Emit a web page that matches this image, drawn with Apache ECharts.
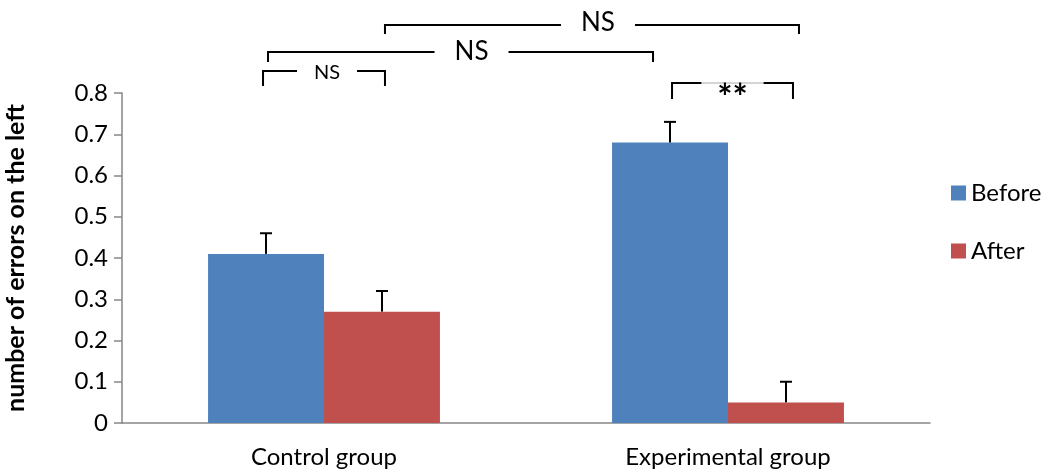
<!DOCTYPE html>
<html>
<head>
<meta charset="utf-8">
<script src="https://cdn.jsdelivr.net/npm/echarts@6/dist/echarts.min.js"></script>
<style>
  html, body { margin: 0; padding: 0; background: #fff; }
  #chart { width: 1043px; height: 474px; }
</style>
</head>
<body>
<div id="chart"></div>
<script>
const categories = ['Control group', 'Experimental group'];
const seriesNames = ['Before', 'After'];
const beforeValues = [0.41, 0.68];
const afterValues = [0.27, 0.05];
const beforeErrors = [0.05, 0.05];
const afterErrors = [0.05, 0.05];

// significance comparisons, each end is [category index, series index]
const compareFrom = [[0, 0], [0, 0], [0, 1], [1, 0]];
const compareTo = [[0, 1], [1, 0], [1, 1], [1, 1]];
const compareLabels = ['NS', 'NS', 'NS', '**'];

const FONT = 'Lato';
const BAR_FRAC = 0.287; // bar width as part of the category band

// bracket drawing tweaks (px), relative to the top of the value axis
const bracketLayout = [
  { line: -22, foot: -7, dl: -3, dr: 3, dt: 3, gap: 30, size: 20, dy: 2 },
  { line: -41, foot: -31, dl: 2, dr: -17, dt: 11, gap: 37, size: 26, dy: 0 },
  { line: -68, foot: -59, dl: 3, dr: 13, dt: 6, gap: 37, size: 26, dy: -2 },
  { line: -10, foot: 6, dl: 2, dr: 7, dt: 0, gap: 31, size: 36, dy: 15, bold: true, thin: true }
];

const chart = echarts.init(document.getElementById('chart'));

const barCenter = (api, cat, ser) => {
  const c = api.coord([cat, 0]);
  const band = api.size([1, 0])[0];
  return c[0] + band * BAR_FRAC * (ser - 0.5);
};

const errorSeries = (values, errors, ser) => ({
  type: 'custom',
  silent: true,
  z: 5,
  data: values.map((v, i) => [i, v, v + errors[i]]),
  renderItem: (params, api) => {
    const cat = api.value(0);
    const x = barCenter(api, cat, ser);
    const y0 = api.coord([cat, api.value(1)])[1];
    const y1 = api.coord([cat, api.value(2)])[1];
    const style = { stroke: '#000', lineWidth: 2 };
    return {
      type: 'group',
      children: [
        { type: 'line', shape: { x1: x, y1: y0, x2: x, y2: y1 }, style },
        { type: 'line', shape: { x1: x - 6, y1: y1, x2: x + 6, y2: y1 }, style }
      ]
    };
  }
});

const bracketSeries = {
  type: 'custom',
  silent: true,
  clip: false,
  z: 10,
  data: compareLabels.map((l, i) => [i]),
  renderItem: (params, api) => {
    const i = params.dataIndex;
    const lay = bracketLayout[i];
    const top = api.coord([0, 0.8])[1];
    const xl = barCenter(api, compareFrom[i][0], compareFrom[i][1]) + lay.dl;
    const xr = barCenter(api, compareTo[i][0], compareTo[i][1]) + lay.dr;
    const yl = top + lay.line;
    const yf = top + lay.foot;
    const xt = (xl + xr) / 2 + lay.dt;
    const style = { stroke: '#000', lineWidth: 2, fill: null };
    const children = [
      { type: 'polyline', shape: { points: [[xl, yf], [xl, yl], [xt - lay.gap, yl]] }, style },
      { type: 'polyline', shape: { points: [[xt + lay.gap, yl], [xr, yl], [xr, yf]] }, style }
    ];
    if (lay.thin) {
      children.push({ type: 'line', shape: { x1: xt - lay.gap, y1: yl, x2: xt + lay.gap, y2: yl },
        style: { stroke: '#aaa', lineWidth: 1 } });
    }
    children.push({
      type: 'text',
      style: {
        text: compareLabels[i], x: xt, y: yl + lay.dy,
        align: 'center', verticalAlign: 'middle',
        fontFamily: FONT, fontSize: lay.size, fontWeight: lay.bold ? 'bold' : 'normal', fill: '#000'
      }
    });
    return { type: 'group', children };
  }
};

const option = {
  animation: false,
  textStyle: { fontFamily: FONT },
  color: ['#4F81BD', '#C0504D'],
  grid: { left: 122, right: 113, top: 93, bottom: 51, outerBoundsMode: 'none' },
  legend: {
    data: seriesNames,
    orient: 'vertical',
    left: 946,
    top: 176,
    icon: 'rect',
    itemWidth: 15,
    itemHeight: 15,
    itemGap: 34,
    textStyle: { fontSize: 24, color: '#000', fontFamily: FONT }
  },
  xAxis: {
    type: 'category',
    data: categories,
    axisLine: { lineStyle: { color: '#868686', width: 1.5 } },
    axisTick: { length: 9, lineStyle: { color: '#868686', width: 1.5 } },
    axisLabel: { color: '#000', fontSize: 24, margin: 22, fontFamily: FONT }
  },
  yAxis: {
    type: 'value',
    min: 0,
    max: 0.8,
    interval: 0.1,
    name: 'number of errors on the left',
    nameLocation: 'middle',
    nameGap: 94,
    nameTextStyle: { fontSize: 25, fontWeight: 'bold', color: '#000', fontFamily: FONT },
    axisLine: { show: true, lineStyle: { color: '#868686', width: 1.5 } },
    axisTick: { show: true, length: 8, lineStyle: { color: '#868686', width: 1.5 } },
    axisLabel: { color: '#000', fontSize: 24, margin: 14, fontFamily: FONT },
    splitLine: { show: false }
  },
  series: [
    { name: 'Before', type: 'bar', data: beforeValues, barWidth: BAR_FRAC * 100 + '%', barGap: '0%' },
    { name: 'After', type: 'bar', data: afterValues, barWidth: BAR_FRAC * 100 + '%', barGap: '0%' },
    errorSeries(beforeValues, beforeErrors, 0),
    errorSeries(afterValues, afterErrors, 1),
    bracketSeries
  ]
};

chart.setOption(option);
</script>
</body>
</html>
